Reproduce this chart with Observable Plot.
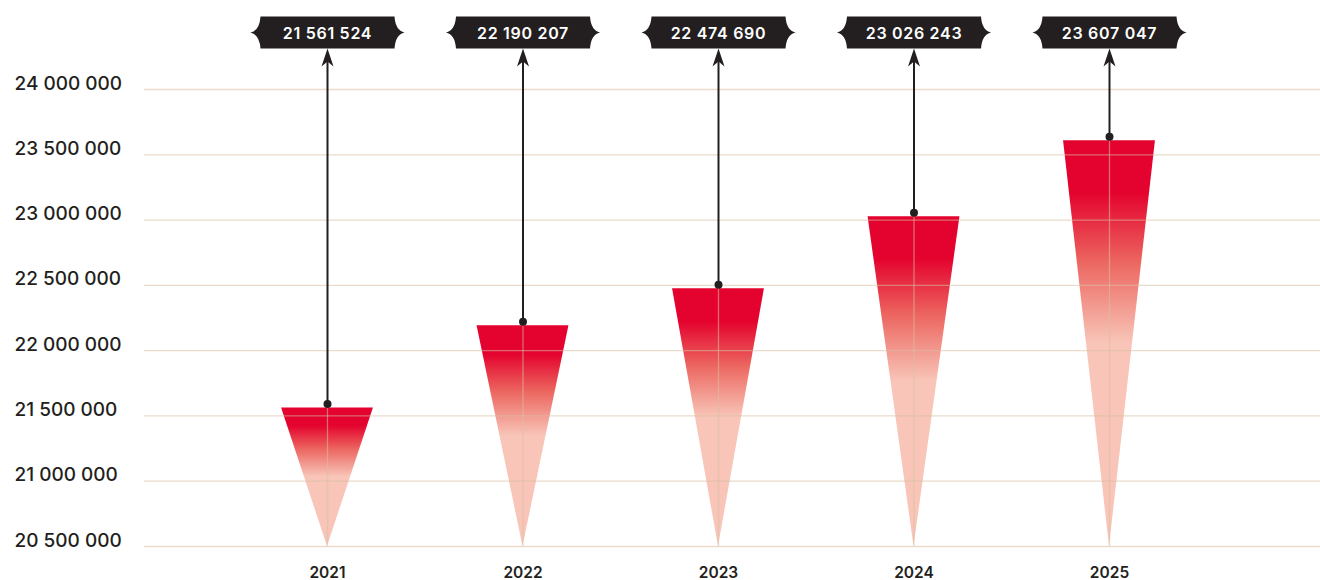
<!DOCTYPE html>
<html>
<head>
<meta charset="utf-8">
<script src="https://cdn.jsdelivr.net/npm/d3@7"></script>
<script src="https://cdn.jsdelivr.net/npm/@observablehq/plot@0.6"></script>
<style>
  html, body { margin: 0; padding: 0; background: #fff; }
  #chart { width: 1320px; height: 580px; }
</style>
</head>
<body>
<div id="chart"></div>
<script>
// ---- data ----
const years = [2021, 2022, 2023, 2024, 2025];
const values = [21561524, 22190207, 22474690, 23026243, 23607047];
const yTicks = [20500000, 21000000, 21500000, 22000000, 22500000, 23000000, 23500000, 24000000];
const baseValue = 20500000;
const topValue = 24000000;

// ---- derived tables ----
const data = years.map((year, i) => ({year, value: values[i]}));
const halfWidth = 0.235; // half of the triangle top, in years
const tri = data.flatMap(d => [
  {year: d.year, x: d.year - halfWidth, y1: d.value, y2: d.value},
  {year: d.year, x: d.year, y1: baseValue, y2: d.value},
  {year: d.year, x: d.year + halfWidth, y1: d.value, y2: d.value}
]);
const fmt = v => d3.format(",")(v).replace(/,/g, " ");
const ink = "#231f20";

// ticket-shaped label symbol
const ticket = {
  draw(ctx) {
    const b = 67, t = 77, h = 16;
    ctx.moveTo(-b, -h);
    ctx.lineTo(b, -h);
    ctx.quadraticCurveTo(b + 1, -2, t, 0);
    ctx.quadraticCurveTo(b + 1, 2, b, h);
    ctx.lineTo(-b, h);
    ctx.quadraticCurveTo(-b - 1, 2, -t, 0);
    ctx.quadraticCurveTo(-b - 1, -2, -b, -h);
    ctx.closePath();
  }
};
// filled arrowhead symbol, tip at origin
const head = {
  draw(ctx) {
    ctx.moveTo(0, 0);
    ctx.lineTo(6, 18);
    ctx.lineTo(0, 13);
    ctx.lineTo(-6, 18);
    ctx.closePath();
  }
};

const gridStroke = "#d9bfa3";

const plot = Plot.plot({
  width: 1320,
  height: 580,
  marginLeft: 144,
  marginRight: 0,
  marginTop: 89,
  marginBottom: 34,
  x: {type: "linear", domain: [2021, 2025], range: [327, 1109], axis: null},
  y: {domain: [baseValue, topValue], axis: null},
  style: {fontFamily: "Inter, 'Noto Sans', sans-serif", background: "#fff", overflow: "visible"},
  marks: [
    Plot.areaY(tri, {x: "x", y1: "y1", y2: "y2", z: "year", fill: "url(#triGrad)", curve: "linear"}),
    Plot.ruleY(yTicks, {y: d => d, stroke: gridStroke, strokeOpacity: 0.55, strokeWidth: 1.3}),
    Plot.ruleX(data, {x: "year", y1: () => baseValue, y2: "value", stroke: gridStroke, strokeOpacity: 0.55, strokeWidth: 1.3}),
    Plot.ruleX(data, {x: "year", y1: () => topValue, y2: "value", insetTop: -29, stroke: ink, strokeWidth: 2}),
    Plot.dot(data, {x: "year", y: "value", r: 4, fill: ink, stroke: "none", dy: -4}),
    Plot.dot(data, {x: "year", frameAnchor: "top", dy: -41, symbol: head, fill: ink, stroke: "none"}),
    Plot.dot(data, {x: "year", frameAnchor: "top", dy: -57, symbol: ticket, fill: ink, stroke: "none"}),
    Plot.text(data, {x: "year", frameAnchor: "top", dy: -62, text: d => fmt(d.value), fill: "#fff", fontSize: 16, fontWeight: 600}),
    Plot.text(yTicks, {y: d => d, frameAnchor: "left", textAnchor: "start", dx: -130, dy: -6, text: d => fmt(d), fontSize: 19, fontWeight: 500, fill: ink}),
    Plot.text(years, {x: d => d, frameAnchor: "bottom", dy: 31, text: d => String(d), fontSize: 15.5, fontWeight: 600, fill: ink})
  ]
});

const ns = "http://www.w3.org/2000/svg";
const defs = document.createElementNS(ns, "defs");
defs.innerHTML = `
  <linearGradient id="triGrad" x1="0" y1="0" x2="0" y2="1">
    <stop offset="0" stop-color="#e4032e"/>
    <stop offset="0.13" stop-color="#e4032e"/>
    <stop offset="0.3" stop-color="#ec6660"/>
    <stop offset="0.5" stop-color="#f8c5b8"/>
    <stop offset="1" stop-color="#f8c5b8"/>
  </linearGradient>`;
plot.insertBefore(defs, plot.firstChild);
plot.querySelectorAll('g[fill="#fff"] text').forEach(t => t.setAttribute("letter-spacing", "0.7"));
document.getElementById("chart").appendChild(plot);
</script>
</body>
</html>
